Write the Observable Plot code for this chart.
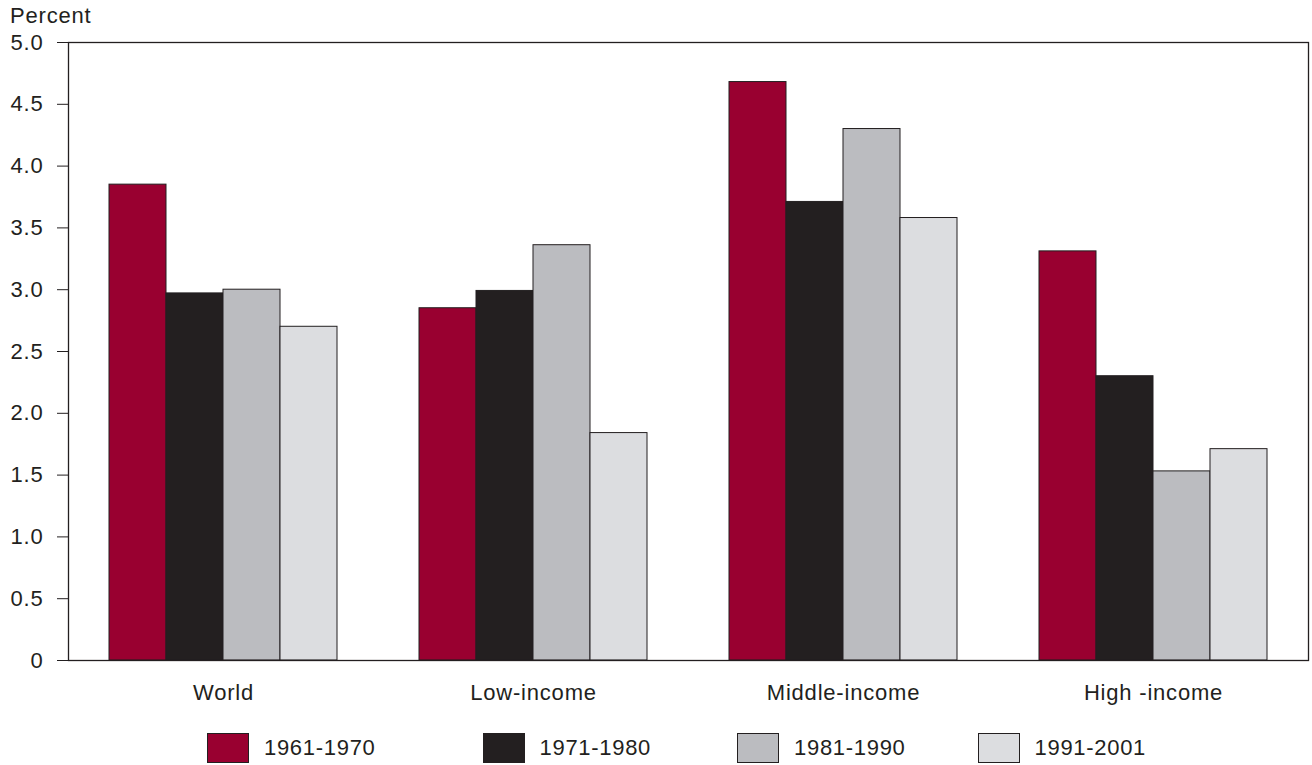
<!DOCTYPE html>
<html>
<head>
<meta charset="utf-8">
<script src="https://cdn.jsdelivr.net/npm/d3@7"></script>
<script src="https://cdn.jsdelivr.net/npm/@observablehq/plot@0.6"></script>
<style>
  html, body { margin: 0; padding: 0; background: #fff; }
  body { width: 1312px; height: 765px; overflow: hidden; font-family: "Liberation Sans", Arial, sans-serif; color: #231f20; }
  #wrap { position: relative; width: 1312px; height: 765px; }
  #chart svg text { letter-spacing: 0.8px; }
  #ylabel { position: absolute; left: 10px; top: 3px; font-size: 22px; letter-spacing: 0.8px; }
  #legend { position: absolute; left: 207px; top: 733px; display: flex; font-size: 22px; letter-spacing: 0.7px; }
  .item { display: flex; align-items: center; }
  .sw { width: 42px; height: 30px; border: 1px solid #231f20; box-sizing: border-box; margin-right: 15px; }
</style>
</head>
<body>
<div id="wrap">
  <div id="chart"></div>
  <div id="ylabel">Percent</div>
  <div id="legend"></div>
</div>
<script>
const categories = ["World", "Low-income", "Middle-income", "High -income"];
const periods = ["1961-1970", "1971-1980", "1981-1990", "1991-2001"];
const colors = ["#990030", "#231f20", "#bbbcc0", "#dcdde0"];
const v1961 = [3.85, 2.85, 4.68, 3.31];
const v1971 = [2.97, 2.99, 3.71, 2.30];
const v1981 = [3.00, 3.36, 4.30, 1.53];
const v1991 = [2.70, 1.84, 3.58, 1.71];
const yTicks = [0, 0.5, 1.0, 1.5, 2.0, 2.5, 3.0, 3.5, 4.0, 4.5, 5.0];

const series = [v1961, v1971, v1981, v1991];
const data = [];
categories.forEach((c, i) => {
  periods.forEach((p, j) => data.push({category: c, period: p, value: series[j][i]}));
});

const chart = Plot.plot({
  width: 1312,
  height: 715,
  marginTop: 42,
  marginBottom: 55,
  marginLeft: 67,
  marginRight: 3,
  style: {fontFamily: "'Liberation Sans', Arial, sans-serif", fontSize: "22px", color: "#231f20", background: "#fff"},
  fx: {domain: categories, padding: 0, label: null},
  x: {domain: periods, paddingInner: 0, paddingOuter: 0.7, axis: null},
  y: {domain: [0, 5], label: null},
  color: {domain: periods, range: colors},
  marks: [
    Plot.barY(data, {fx: "category", x: "period", y: "value", fill: "period", stroke: "#231f20", strokeWidth: 1, inset: 0}),
    Plot.frame({facet: "super", stroke: "#231f20", strokeWidth: 1.3}),
    Plot.axisY({ticks: yTicks, tickSize: 11, tickPadding: 14, tickFormat: d => d === 0 ? "0" : d.toFixed(1), fontSize: 22, stroke: "#231f20", label: null}),
    Plot.axisFx({anchor: "bottom", tickSize: 0, tickPadding: 24, fontSize: 22, label: null})
  ]
});
document.getElementById("chart").appendChild(chart);

const legend = document.getElementById("legend");
const gaps = [0, 107, 86, 72];
periods.forEach((p, j) => {
  const item = document.createElement("div");
  item.className = "item";
  item.style.marginLeft = gaps[j] + "px";
  const sw = document.createElement("div");
  sw.className = "sw";
  sw.style.background = colors[j];
  const t = document.createElement("span");
  t.textContent = p;
  item.appendChild(sw);
  item.appendChild(t);
  legend.appendChild(item);
});
</script>
</body>
</html>
